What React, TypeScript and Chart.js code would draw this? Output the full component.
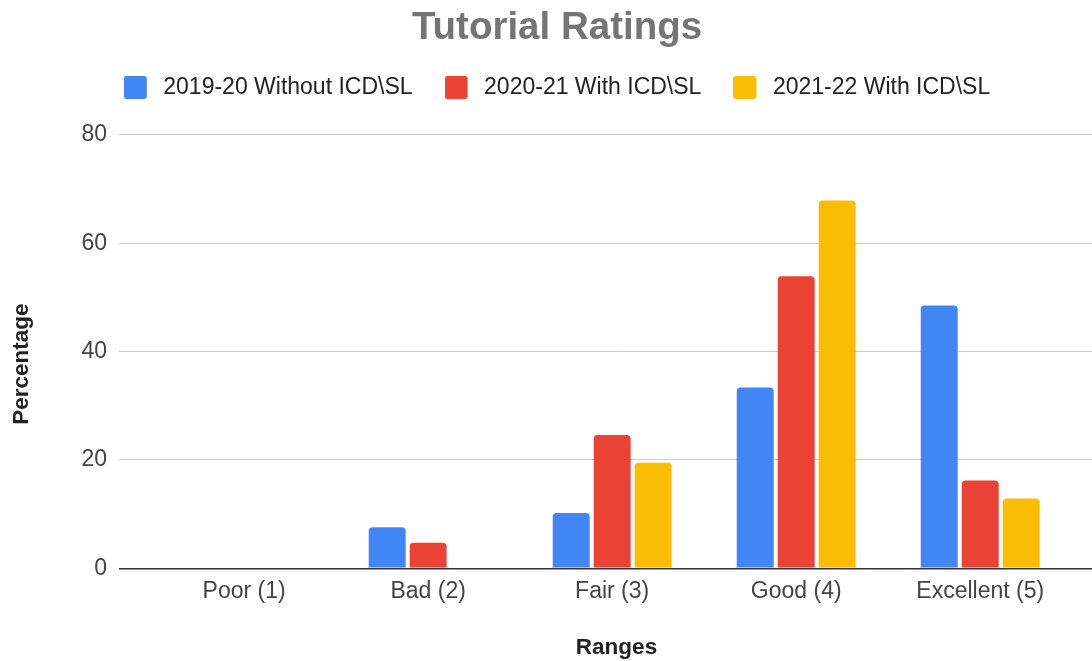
import React, { useEffect, useRef } from 'react';
import { Chart, registerables } from 'chart.js';

Chart.register(...registerables);

const categories = ['Poor (1)', 'Bad (2)', 'Fair (3)', 'Good (4)', 'Excellent (5)'];
const series2019 = [0, 7.6, 10.2, 33.4, 48.5];
const series2020 = [0, 4.7, 24.6, 53.9, 16.2];
const series2021 = [0, 0, 19.5, 67.9, 12.9];
const seriesLabels = ['2019-20 Without ICD\\SL', '2020-21 With ICD\\SL', '2021-22 With ICD\\SL'];
const seriesColors = ['#4285F4', '#EA4335', '#FBBC04'];
const yTicks = [0, 20, 40, 60, 80];

const FAMILY = '"Liberation Sans", Arial, Helvetica, sans-serif';

function makeSwatch(color: string): HTMLCanvasElement {
  const c = document.createElement('canvas');
  c.width = 28;
  c.height = 23;
  const g = c.getContext('2d')!;
  g.fillStyle = color;
  g.beginPath();
  if ((g as any).roundRect) {
    (g as any).roundRect(0, 0, 23, 23, 3);
  } else {
    g.rect(0, 0, 23, 23);
  }
  g.fill();
  return c;
}

export default function App() {
  const canvasRef = useRef<HTMLCanvasElement | null>(null);

  useEffect(() => {
    document.body.style.margin = '0';
    const canvas = canvasRef.current;
    if (!canvas) return;
    const swatches = seriesColors.map(makeSwatch);
    const allSeries = [series2019, series2020, series2021];

    const legendSpacer = {
      id: 'legendSpacer',
      beforeLayout(chart: any) {
        const lg = chart.legend;
        if (lg && !lg.__patched) {
          const orig = lg.fit;
          lg.fit = function () {
            orig.call(this);
            this.height += 26;
          };
          lg.__patched = true;
        }
      },
    };

    const chart = new Chart(canvas, {
      type: 'bar',
      data: {
        datasets: allSeries.map((vals, si) => ({
          label: seriesLabels[si],
          data: vals.map((v, i) => ({ x: i, y: v })),
          backgroundColor: seriesColors[si],
          borderWidth: 0,
          borderRadius: 4,
          categoryPercentage: 0.668,
          barPercentage: 0.902,
        })),
      },
      options: {
        responsive: false,
        animation: false,
        devicePixelRatio: 1,
        layout: { padding: { top: 0, left: 0, right: 0, bottom: 0 } },
        plugins: {
          title: {
            display: true,
            text: 'Tutorial Ratings',
            color: '#757575',
            font: { size: 38.5, weight: 'bold', family: FAMILY, lineHeight: 0.805 },
            padding: { top: 13, bottom: 0 },
          },
          legend: {
            display: true,
            position: 'top',
            labels: {
              usePointStyle: true,
              pointStyleWidth: 28,
              padding: 32,
              color: '#222',
              font: { size: 23, family: FAMILY },
              generateLabels: (ch: any) => {
                const items = (Chart.defaults.plugins.legend.labels as any).generateLabels(ch);
                return items.map((it: any) => ({ ...it, pointStyle: swatches[it.datasetIndex] }));
              },
            },
          },
          tooltip: { enabled: false },
        },
        scales: {
          x: {
            type: 'linear',
            offset: false,
            min: -0.68,
            max: 4.727,
            afterBuildTicks: (s: any) => {
              s.ticks = categories.map((_, i) => ({ value: i }));
            },
            afterFit: (s: any) => {
              s.height = 92.7;
            },
            ticks: {
              autoSkip: false,
              maxRotation: 0,
              padding: 2,
              color: '#444',
              font: { size: 23, family: FAMILY },
              callback: (v: any) => categories[Math.round(Number(v))] ?? '',
            },
            grid: { display: false },
            border: { display: false },
            title: {
              display: true,
              text: 'Ranges',
              color: '#222',
              font: { size: 22.5, weight: 'bold', family: FAMILY },
              padding: { top: 0, bottom: 0 },
            },
          },
          y: {
            type: 'linear',
            min: 0,
            max: 80,
            afterBuildTicks: (s: any) => {
              s.ticks = yTicks.map((v) => ({ value: v }));
            },
            afterFit: (s: any) => {
              s.width = 119;
            },
            ticks: {
              padding: 12,
              color: '#444',
              font: { size: 23, family: FAMILY },
            },
            grid: {
              drawTicks: false,
              color: (ctx: any) => (ctx.tick && ctx.tick.value === 0 ? '#333333' : '#cccccc'),
              lineWidth: (ctx: any) => (ctx.tick && ctx.tick.value === 0 ? 1.6 : 1),
            },
            border: { display: false },
            title: {
              display: true,
              text: 'Percentage    ',
              color: '#222',
              font: { size: 22.5, weight: 'bold', family: FAMILY },
              padding: { top: 8, bottom: 0 },
            },
          },
        },
      } as any,
      plugins: [legendSpacer],
    });

    return () => {
      chart.destroy();
    };
  }, []);

  return (
    <div style={{ width: 1092, height: 661, overflow: 'hidden', position: 'relative', background: '#fff' }}>
      <canvas ref={canvasRef} width={1114} height={661} style={{ display: 'block' }} />
    </div>
  );
}
